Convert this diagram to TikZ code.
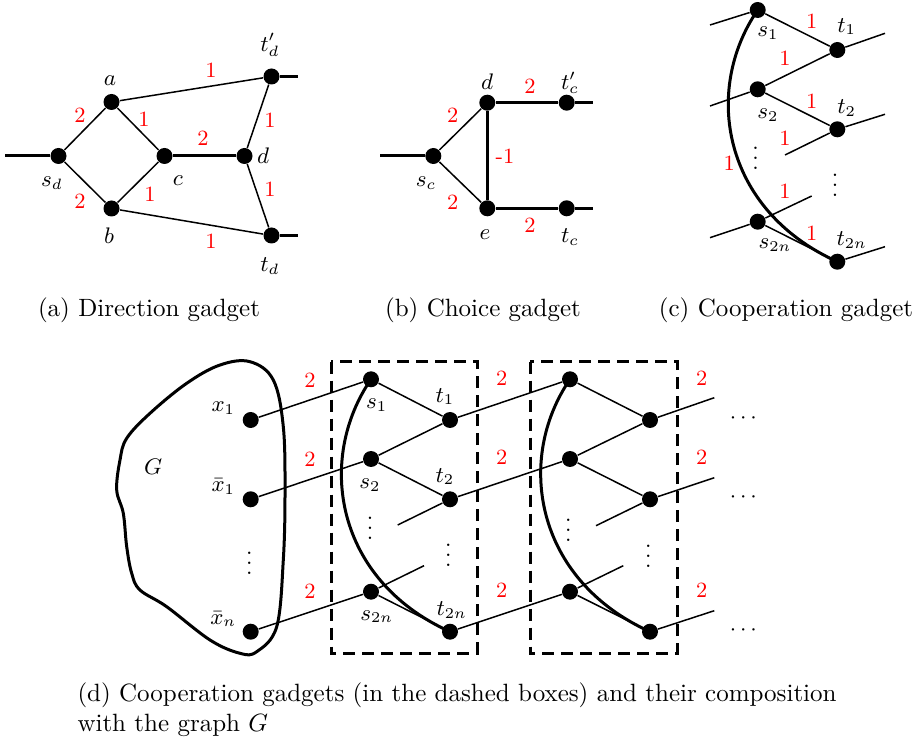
\documentclass[tikz,border=0pt]{standalone}
\usetikzlibrary{calc}
\begin{document}
\begin{tikzpicture}[x=0.4pt,y=-0.4pt,
  dot/.style={circle,fill=black,draw=none,inner sep=0pt,minimum size=6.4pt},
  thinedge/.style={line width=0.6pt},
  thickedge/.style={line width=1.2pt},
  wt/.style={text=red,font=\fontsize{8.7}{10}\selectfont,inner sep=0pt},
  lab/.style={font=\small,inner sep=0pt},
  vd/.style={font=\small,inner sep=0pt,text height=1.5ex,text depth=0pt},
  capt/.style={font=\normalsize,inner sep=0pt},
  dashbox/.style={line width=1.2pt,dash pattern=on 4.8pt off 2.8pt},
  gadgetcurve/.style={line width=1.2pt}]
\useasboundingbox (0,0) rectangle (919,738);

% ---------------- (a) Direction gadget ----------------
\node[dot] (sd) at (58.5,156) {};
\node[dot] (aa) at (111.5,102) {};
\node[dot] (ab) at (111.5,208.5) {};
\node[dot] (ac) at (164.5,156) {};
\node[dot] (ad) at (244.5,156) {};
\node[dot] (tdp) at (271.5,76.5) {};
\node[dot] (td) at (271.5,235.5) {};
\coordinate (sdL) at (5,156);
\coordinate (tdpR) at (298,76.5);
\coordinate (tdR) at (298,235.5);
\draw[thickedge] (sdL) -- (sd);
\draw[thinedge] (sd) -- (aa);
\draw[thinedge] (sd) -- (ab);
\draw[thinedge] (aa) -- (ac);
\draw[thinedge] (ab) -- (ac);
\draw[thickedge] (ac) -- (ad);
\draw[thinedge] (aa) -- (tdp);
\draw[thinedge] (ab) -- (td);
\draw[thinedge] (ad) -- (tdp);
\draw[thinedge] (ad) -- (td);
\draw[thickedge] (tdp) -- (tdpR);
\draw[thickedge] (td) -- (tdR);
\node[wt] (wa1) at (80,115) {2};
\node[wt] (wa2) at (144,119) {1};
\node[wt] (wa3) at (80,201) {2};
\node[wt] (wa4) at (150,194) {1};
\node[wt] (wa5) at (203,138) {2};
\node[wt] (wa6) at (211,70) {1};
\node[wt] (wa7) at (211,241) {1};
\node[wt] (wa8) at (270,120) {1};
\node[wt] (wa9) at (270,189) {1};
\node[lab] (la) at (110,81) {$a$};
\node[lab] (lb) at (109,236) {$b$};
\node[lab] (lc) at (178,181) {$c$};
\node[lab] (ld) at (263,156) {$d$};
\node[lab] (lsd) at (52,183) {$s_d$};
\node[lab] (ltdp) at (270,45) {$t'_d$};
\node[lab] (ltd) at (270,266) {$t_d$};

% ---------------- (b) Choice gadget ----------------
\node[dot] (sc) at (433.3,156) {};
\node[dot] (bd) at (487.3,102.7) {};
\node[dot] (be) at (487.3,208.3) {};
\node[dot] (tcp) at (566.7,102.7) {};
\node[dot] (tc) at (566.7,208.3) {};
\coordinate (scL) at (380,156);
\coordinate (tcpR) at (593,102.7);
\coordinate (tcR) at (593,208.3);
\draw[thickedge] (scL) -- (sc);
\draw[thinedge] (sc) -- (bd);
\draw[thinedge] (sc) -- (be);
\draw[thickedge] (bd) -- (be);
\draw[thickedge] (bd) -- (tcp);
\draw[thickedge] (be) -- (tc);
\draw[thickedge] (tcp) -- (tcpR);
\draw[thickedge] (tc) -- (tcR);
\node[wt] (wb1) at (452.7,115) {2};
\node[wt] (wb2) at (452.7,202.7) {2};
\node[wt] (wb3) at (505,156) {-1};
\node[wt] (wb4) at (530,86) {2};
\node[wt] (wb5) at (530,225) {2};
\node[lab] (lbd) at (487,82) {$d$};
\node[lab] (lbe) at (485,235) {$e$};
\node[lab] (lsc) at (426,183) {$s_c$};
\node[lab] (ltcp) at (570,83) {$t'_c$};
\node[lab] (ltc) at (570,237) {$t_c$};

% ---------------- (c) Cooperation gadget ----------------
\node[dot] (cs1) at (757.7,10) {};
\node[dot] (ct1) at (837.3,50) {};
\node[dot] (cs2) at (757.7,89.3) {};
\node[dot] (ct2) at (837.3,129.3) {};
\node[dot] (cs2n) at (757.7,221.7) {};
\node[dot] (ct2n) at (837.3,261.7) {};
\coordinate (cL1) at (710,25);
\coordinate (cL2) at (710,106);
\coordinate (cL3) at (710,237.7);
\coordinate (cR1) at (885,33.3);
\coordinate (cR2) at (885,114.3);
\coordinate (cR3) at (885,246.7);
\coordinate (cD1) at (785,155);
\coordinate (cD2) at (811.7,196);
\draw[thinedge] (cL1) -- (cs1);
\draw[thinedge] (cs1) -- (ct1);
\draw[thinedge] (ct1) -- (cR1);
\draw[thinedge] (cs2) -- (ct1);
\draw[thinedge] (cL2) -- (cs2);
\draw[thinedge] (cs2) -- (ct2);
\draw[thinedge] (ct2) -- (cR2);
\draw[thinedge] (ct2) -- (cD1);
\draw[thinedge] (cL3) -- (cs2n);
\draw[thinedge] (cs2n) -- (cD2);
\draw[thinedge] (cs2n) -- (ct2n);
\draw[thinedge] (ct2n) -- (cR3);
\draw[gadgetcurve] (cs1.center) .. controls ($(cs1.center)+(-55,80)$) and ($(ct2n.center)+(-115,-52)$) .. (ct2n.center);
\node[wt] (wc1) at (811.7,21.7) {1};
\node[wt] (wc2) at (785,58.3) {1};
\node[wt] (wc3) at (811.7,101.7) {1};
\node[wt] (wc4) at (785,138.3) {1};
\node[wt] (wc5) at (729.3,163.3) {1};
\node[wt] (wc6) at (785,191.7) {1};
\node[wt] (wc7) at (811.7,233.3) {1};
\node[lab] (lcs1) at (768,33.3) {$s_1$};
\node[lab] (lct1) at (846.7,26.7) {$t_1$};
\node[lab] (lcs2) at (768,115) {$s_2$};
\node[lab] (lct2) at (846.7,108.3) {$t_2$};
\node[lab] (lcs2n) at (775,245) {$s_{2n}$};
\node[lab] (lct2n) at (851.7,240) {$t_{2n}$};
\node[vd] (lcv1) at (755.7,161.7) {$\vdots$};
\node[vd] (lcv2) at (835,188.3) {$\vdots$};

% ---------------- captions ----------------
\node[capt] (capa) at (149,310) {(a) Direction gadget};
\node[capt] (capb) at (483,310) {(b) Choice gadget};
\node[capt] (capc) at (786,310) {(c) Cooperation gadget};
\node[capt,anchor=north west,align=left] (capd) at (77,682)
  {(d) Cooperation gadgets (in the dashed boxes) and their composition\\with the graph $G$};

% ---------------- (d) composition ----------------
\draw[line width=1.2pt] plot[smooth cycle,tension=0.6] coordinates {
 (250,361.7) (273.3,380) (283.3,426.7) (285,493.3) (283.3,560) (276.7,626.7)
 (256.7,651.7) (240,653.3) (210,640) (166.7,606.7) (140,590) (131.7,573.3)
 (126.7,546.7) (123.3,513.3) (116.7,490) (120,460) (126.7,438.3) (150,413.3)
 (186.7,383.3) (220,365)};
\node[lab] (lG) at (153.3,466.7) {$G$};
\node[dot] (x1) at (250.7,420) {};
\node[dot] (xb1) at (250.7,499.3) {};
\node[dot] (xbn) at (250.7,631.7) {};
\node[lab] (lx1) at (223.3,408.3) {$x_1$};
\node[lab] (lxb1) at (223.3,486.7) {$\bar{x}_1$};
\node[lab] (lxbn) at (223.3,619.3) {$\bar{x}_n$};
\node[vd] (lxv) at (249.3,566.7) {$\vdots$};

\draw[dashbox] (331,361.7) rectangle (477.3,653.3);
\draw[dashbox] (530,361.7) rectangle (677.3,653.3);

% box 1
\node[dot] (ds1) at (371,379.3) {};
\node[dot] (ds2) at (371,459) {};
\node[dot] (ds2n) at (371,591.7) {};
\node[dot] (dt1) at (450,420) {};
\node[dot] (dt2) at (450,499.3) {};
\node[dot] (dt2n) at (450,631.7) {};
\coordinate (dD1) at (397.7,525);
\coordinate (dD2) at (424,565.7);
% box 2
\node[dot] (es1) at (570,379.3) {};
\node[dot] (es2) at (570,459) {};
\node[dot] (es2n) at (570,591.7) {};
\node[dot] (et1) at (650,420) {};
\node[dot] (et2) at (650,499.3) {};
\node[dot] (et2n) at (650,631.7) {};
\coordinate (eD1) at (596,525.7);
\coordinate (eD2) at (623.3,565.7);
\coordinate (eR1) at (714.3,397.7);
\coordinate (eR2) at (714.3,477.7);
\coordinate (eR3) at (714.3,610.7);

\draw[thinedge] (x1) -- (ds1);
\draw[thinedge] (xb1) -- (ds2);
\draw[thinedge] (xbn) -- (ds2n);
\draw[thinedge] (ds1) -- (dt1);
\draw[thinedge] (ds2) -- (dt1);
\draw[thinedge] (ds2) -- (dt2);
\draw[thinedge] (ds2n) -- (dt2n);
\draw[thinedge] (dt2) -- (dD1);
\draw[thinedge] (ds2n) -- (dD2);
\draw[gadgetcurve] (ds1.center) .. controls ($(ds1.center)+(-55,80)$) and ($(dt2n.center)+(-115,-52)$) .. (dt2n.center);
\draw[thinedge] (dt1) -- (es1);
\draw[thinedge] (dt2) -- (es2);
\draw[thinedge] (dt2n) -- (es2n);
\draw[thinedge] (es1) -- (et1);
\draw[thinedge] (es2) -- (et1);
\draw[thinedge] (es2) -- (et2);
\draw[thinedge] (es2n) -- (et2n);
\draw[thinedge] (et2) -- (eD1);
\draw[thinedge] (es2n) -- (eD2);
\draw[gadgetcurve] (es1.center) .. controls ($(es1.center)+(-55,80)$) and ($(et2n.center)+(-115,-52)$) .. (et2n.center);
\draw[thinedge] (et1) -- (eR1);
\draw[thinedge] (et2) -- (eR2);
\draw[thinedge] (et2n) -- (eR3);

\node[wt] (wd1) at (310,380) {2};
\node[wt] (wd2) at (310,459.3) {2};
\node[wt] (wd3) at (310,591.7) {2};
\node[wt] (wd4) at (501.7,378.3) {2};
\node[wt] (wd5) at (501.7,457.7) {2};
\node[wt] (wd6) at (501.7,590) {2};
\node[wt] (wd7) at (701.7,378.3) {2};
\node[wt] (wd8) at (701.7,457.7) {2};
\node[wt] (wd9) at (701.7,590) {2};

\node[lab] (lds1) at (376.7,405) {$s_1$};
\node[lab] (lds2) at (370,485) {$s_2$};
\node[lab] (lds2n) at (376.7,616.7) {$s_{2n}$};
\node[lab] (ldt1) at (445,396.7) {$t_1$};
\node[lab] (ldt2) at (445,476.7) {$t_2$};
\node[lab] (ldt2n) at (451.7,610) {$t_{2n}$};
\node[vd] (ldv1) at (370,531.7) {$\vdots$};
\node[vd] (ldv2) at (448.3,558.3) {$\vdots$};
\node[vd] (lev1) at (568.3,533.3) {$\vdots$};
\node[vd] (lev2) at (648.3,559) {$\vdots$};
\node[lab] (leh1) at (743.3,418.3) {$\cdots$};
\node[lab] (leh2) at (743.3,497.7) {$\cdots$};
\node[lab] (leh3) at (743.3,630) {$\cdots$};
\end{tikzpicture}
\end{document}
